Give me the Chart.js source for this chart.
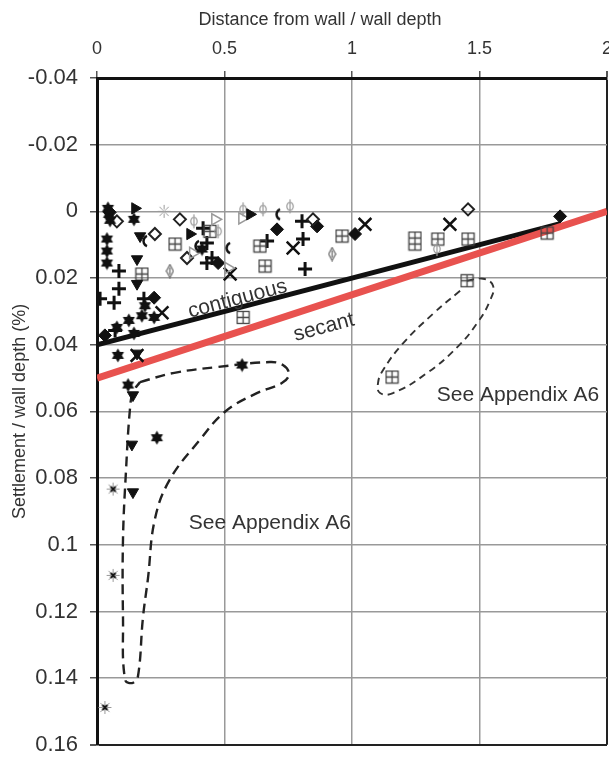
<!DOCTYPE html>
<html>
<head>
<meta charset="utf-8">
<script src="https://cdn.jsdelivr.net/npm/chart.js@4.4.1/dist/chart.umd.min.js"></script>
<style>
  html, body { margin: 0; padding: 0; background: #fff; overflow: hidden; }
  #wrap { width: 640px; height: 770px; }
</style>
</head>
<body>
<div id="wrap"><canvas id="settlementChart" width="640" height="770"></canvas></div>
<script>
// axis ticks
const xTicks = [0, 0.5, 1, 1.5, 2];
const yTicks = [-0.04, -0.02, 0, 0.02, 0.04, 0.06, 0.08, 0.1, 0.12, 0.14, 0.16];

// case histories, [distance / depth, settlement / depth (%)]
const hexStarPts = [[0.043, -0.0009], [0.047, 0.0009], [0.051, 0.0027], [0.145, 0.0024], [0.039, 0.0083],
  [0.039, 0.0119], [0.039, 0.0155], [0.412, 0.0113], [0.188, 0.0283], [0.176, 0.0313], [0.224, 0.0318],
  [0.125, 0.0327], [0.078, 0.0348], [0.145, 0.0366], [0.082, 0.0432], [0.569, 0.0461], [0.122, 0.0521],
  [0.235, 0.0679]];
const burstDarkPts = [[0.063, 0.0833], [0.063, 0.1092], [0.031, 0.1488]];
const burstOpenPts = [[0.263, 0.0]];
const triRightPts = [[0.149, -0.0009], [0.365, 0.0068], [0.6, 0.0009]];
const triDownPts = [[0.169, 0.0074], [0.157, 0.0143], [0.157, 0.0217], [0.157, 0.0426], [0.141, 0.0551],
  [0.137, 0.0699], [0.141, 0.0842]];
const triOpenPts = [[0.463, 0.0024], [0.569, 0.0021], [0.376, 0.0125], [0.514, 0.017]];
const diamondOpenPts = [[0.325, 0.0024], [0.227, 0.0068], [0.353, 0.014], [0.078, 0.003], [0.847, 0.0024],
  [1.455, -0.0006]];
const bulbPts = [[0.38, 0.003], [0.573, -0.0006], [0.651, -0.0006], [0.757, -0.0015], [0.475, 0.006],
  [1.333, 0.0113]];
const thinDiamondPts = [[0.286, 0.0179], [0.922, 0.0128]];
const crescentPts = [[0.188, 0.0089], [0.392, 0.0104], [0.71, 0.0009], [0.514, 0.011]];
const gridBoxPts = [[0.306, 0.0098], [0.176, 0.0188], [0.443, 0.006], [0.639, 0.0104], [0.659, 0.0164],
  [0.573, 0.0318], [0.961, 0.0074], [1.337, 0.0083], [1.455, 0.0083], [1.765, 0.0065], [1.451, 0.0208],
  [1.157, 0.0497]];
const tallBoxPts = [[1.247, 0.0089]];
const diamondPts = [[0.706, 0.0054], [0.475, 0.0155], [0.863, 0.0045], [1.012, 0.0068], [1.816, 0.0015],
  [0.224, 0.0259], [0.031, 0.0372], [0.05, 0.0003]];
const plusPts = [[0.416, 0.0051], [0.431, 0.0095], [0.431, 0.0155], [0.451, 0.014], [0.667, 0.0089],
  [0.804, 0.003], [0.808, 0.0083], [0.816, 0.0173], [0.086, 0.0179], [0.086, 0.0232], [0.012, 0.0262],
  [0.067, 0.0274], [0.071, 0.0357], [0.184, 0.0262]];
const crossPts = [[0.522, 0.0188], [0.769, 0.011], [1.051, 0.0039], [1.384, 0.0039], [0.255, 0.0304],
  [0.157, 0.0432]];

// design lines
const contiguousLine = [[0, 0.04], [1.82, 0.0036]];
const secantLine = [[0, 0.05], [2, 0]];

// dashed envelopes round the outliers
const envelopeA = [[0.169, 0.0512], [0.298, 0.0485], [0.471, 0.0467], [0.678, 0.0452], [0.729, 0.0461],
  [0.753, 0.0488], [0.725, 0.0515], [0.627, 0.0545], [0.502, 0.0601], [0.404, 0.0685], [0.286, 0.0804],
  [0.227, 0.0923], [0.2, 0.110], [0.18, 0.122], [0.161, 0.1393], [0.141, 0.1414], [0.11, 0.1405],
  [0.102, 0.122], [0.102, 0.0982], [0.114, 0.0774], [0.129, 0.0595], [0.141, 0.0542], [0.169, 0.0512]];
const envelopeB = [[1.451, 0.0208], [1.514, 0.0202], [1.553, 0.0223], [1.541, 0.0268], [1.49, 0.0336],
  [1.412, 0.0408], [1.294, 0.0485], [1.161, 0.0545], [1.11, 0.0545], [1.102, 0.0515], [1.122, 0.0476],
  [1.2, 0.0396], [1.318, 0.0307], [1.424, 0.0238]];

const xTitle = 'Distance from wall / wall depth';
const yTitle = 'Settlement / wall depth (%)';

const notes = [
  { text: 'contiguous', x: 0.551, y: 0.0263, angle: -15 },
  { text: 'secant', x: 0.89, y: 0.0348, angle: -15 },
  { text: 'See Appendix A6', x: 0.678, y: 0.0935, angle: 0 },
  { text: 'See Appendix A6', x: 1.651, y: 0.0551, angle: 0 }
];

const FONT = "'Liberation Sans', Arial, Helvetica, sans-serif";
Chart.defaults.font.family = FONT;
Chart.defaults.color = '#333';

const toXY = pts => pts.map(p => ({ x: p[0], y: p[1] }));

function marker(w, h, draw) {
  const c = document.createElement('canvas');
  c.width = w;
  c.height = h;
  draw(c.getContext('2d'), w, h);
  return c;
}

const hexStar = marker(15, 15, g => {
  g.fillStyle = '#111';
  g.beginPath();
  [-Math.PI / 2, Math.PI / 2].forEach(a0 => {
    for (let k = 0; k < 3; k++) {
      const a = a0 + k * 2 * Math.PI / 3;
      const px = 7.5 + 7 * Math.cos(a), py = 7.5 + 7 * Math.sin(a);
      k ? g.lineTo(px, py) : g.moveTo(px, py);
    }
    g.closePath();
  });
  g.fill();
});

function burst(dark) {
  return marker(15, 15, g => {
    g.strokeStyle = '#999';
    g.lineWidth = 1;
    g.beginPath();
    for (let k = 0; k < 8; k++) {
      const a = k * Math.PI / 4;
      g.moveTo(7.5 + 2 * Math.cos(a), 7.5 + 2 * Math.sin(a));
      g.lineTo(7.5 + 6.5 * Math.cos(a), 7.5 + 6.5 * Math.sin(a));
    }
    g.stroke();
    g.strokeStyle = dark ? '#111' : '#aaa';
    g.lineWidth = dark ? 2 : 1;
    g.beginPath();
    g.moveTo(5, 5); g.lineTo(10, 10);
    g.moveTo(10, 5); g.lineTo(5, 10);
    g.stroke();
  });
}

const gridBox = marker(15, 15, g => {
  g.strokeStyle = '#444';
  g.lineWidth = 1.3;
  g.strokeRect(1.5, 1.5, 12, 12);
  g.beginPath();
  g.moveTo(7.5, 1.5); g.lineTo(7.5, 13.5);
  g.moveTo(1.5, 7.5); g.lineTo(13.5, 7.5);
  g.stroke();
});

const tallBox = marker(15, 21, g => {
  g.strokeStyle = '#444';
  g.lineWidth = 1.3;
  g.strokeRect(1.5, 1.5, 12, 18);
  g.beginPath();
  g.moveTo(7.5, 1.5); g.lineTo(7.5, 19.5);
  g.moveTo(1.5, 7.5); g.lineTo(13.5, 7.5);
  g.moveTo(1.5, 13.5); g.lineTo(13.5, 13.5);
  g.stroke();
});

const crescent = marker(12, 14, g => {
  g.strokeStyle = '#111';
  g.lineWidth = 2.5;
  g.beginPath();
  g.arc(10, 7, 5.5, 0.62 * Math.PI, 1.38 * Math.PI);
  g.stroke();
});

const bulb = marker(10, 16, g => {
  g.strokeStyle = '#999';
  g.lineWidth = 1.2;
  g.beginPath();
  g.ellipse(5, 8, 3.2, 4, 0, 0, 2 * Math.PI);
  g.moveTo(5, 1); g.lineTo(5, 15);
  g.stroke();
});

const thinDiamond = marker(9, 15, g => {
  g.strokeStyle = '#666';
  g.lineWidth = 1.2;
  g.beginPath();
  g.moveTo(4.5, 1); g.lineTo(8, 7.5); g.lineTo(4.5, 14); g.lineTo(1, 7.5); g.closePath();
  g.moveTo(4.5, 4); g.lineTo(4.5, 11);
  g.stroke();
});

function pointSet(pts, style, extra) {
  return Object.assign({
    data: toXY(pts),
    pointStyle: style,
    pointRadius: 6.5,
    pointBackgroundColor: '#111',
    pointBorderColor: '#111',
    pointBorderWidth: 1,
    showLine: false,
    order: 1
  }, extra || {});
}

function lineSet(pts, color, width, extra) {
  return Object.assign({
    data: toXY(pts),
    showLine: true,
    pointRadius: 0,
    borderColor: color,
    borderWidth: width,
    fill: false
  }, extra || {});
}

// top title (centred on the canvas) plus rotated text along the design lines
const notesPlugin = {
  id: 'notes',
  afterDatasetsDraw(chart) {
    const { ctx, scales } = chart;
    ctx.save();
    ctx.fillStyle = '#333';
    ctx.textAlign = 'center';
    ctx.textBaseline = 'middle';
    ctx.font = '18px ' + FONT;
    ctx.fillText(xTitle, chart.width / 2, 20);
    ctx.font = '21px ' + FONT;
    notes.forEach(n => {
      ctx.save();
      ctx.translate(scales.x.getPixelForValue(n.x), scales.y.getPixelForValue(n.y));
      ctx.rotate(n.angle * Math.PI / 180);
      ctx.fillText(n.text, 0, 0);
      ctx.restore();
    });
    ctx.restore();
  }
};

const fmt = v => String(Math.round(v * 100) / 100);

new Chart(document.getElementById('settlementChart').getContext('2d'), {
  type: 'scatter',
  data: {
    datasets: [
      pointSet(hexStarPts, hexStar),
      pointSet(burstDarkPts, burst(true)),
      pointSet(burstOpenPts, burst(false)),
      pointSet(triRightPts, 'triangle', { pointRotation: 90, pointRadius: 6.5 }),
      pointSet(triDownPts, 'triangle', { pointRotation: 180, pointRadius: 6.5 }),
      pointSet(triOpenPts, 'triangle', { pointRotation: 90, pointRadius: 6.5, pointBackgroundColor: 'rgba(0,0,0,0)', pointBorderColor: '#999', pointBorderWidth: 1.5 }),
      pointSet(diamondOpenPts, 'rectRot', { pointRadius: 6, pointBackgroundColor: 'rgba(255,255,255,0)', pointBorderColor: '#222', pointBorderWidth: 2 }),
      pointSet(bulbPts, bulb),
      pointSet(thinDiamondPts, thinDiamond),
      pointSet(crescentPts, crescent),
      pointSet(gridBoxPts, gridBox),
      pointSet(tallBoxPts, tallBox),
      pointSet(diamondPts, 'rectRot', { pointRadius: 6.5 }),
      pointSet(plusPts, 'cross', { pointRadius: 7, pointBorderWidth: 3 }),
      pointSet(crossPts, 'crossRot', { pointRadius: 9, pointBorderWidth: 2.5 }),
      lineSet(secantLine, '#e8524f', 7, { order: 5 }),
      lineSet(contiguousLine, '#111', 5, { order: 6 }),
      lineSet(envelopeA, '#222', 2.4, { order: 7, borderDash: [10, 6], tension: 0.4 }),
      lineSet(envelopeB, '#333', 1.9, { order: 7, borderDash: [7, 5], tension: 0.45 })
    ]
  },
  options: {
    responsive: false,
    devicePixelRatio: 1,
    animation: false,
    events: [],
    layout: { padding: { top: 0, right: 33, bottom: 21, left: 0 } },
    plugins: {
      legend: { display: false },
      tooltip: { enabled: false },
      title: { display: false }
    },
    scales: {
      x: {
        type: 'linear',
        position: 'top',
        min: 0,
        max: 2,
        afterBuildTicks: s => { s.ticks = xTicks.map(v => ({ value: v })); },
        afterFit: s => { s.height = 78; },
        ticks: { callback: v => fmt(v), font: { size: 18 }, color: '#333', padding: 11, maxRotation: 0 },
        grid: {
          color: c => c.index === xTicks.length - 1 ? '#222' : '#999',
          lineWidth: c => c.index === xTicks.length - 1 ? 2 : 1.5,
          tickLength: 7,
          tickColor: '#555'
        },
        border: { color: '#111', width: 3 }
      },
      y: {
        type: 'linear',
        reverse: true,
        min: -0.04,
        max: 0.16,
        afterBuildTicks: s => { s.ticks = yTicks.map(v => ({ value: v })); },
        afterFit: s => { s.width = 97; },
        ticks: { callback: v => fmt(v), font: { size: 22 }, color: '#333', padding: 12 },
        grid: {
          color: c => c.index === yTicks.length - 1 ? '#222' : '#999',
          lineWidth: c => c.index === yTicks.length - 1 ? 2 : 1.5,
          tickLength: 7,
          tickColor: '#555'
        },
        border: { color: '#111', width: 3 },
        title: {
          display: true,
          text: yTitle,
          color: '#333',
          font: { size: 18, weight: 'normal' },
          padding: { top: 9, bottom: 0 }
        }
      }
    }
  },
  plugins: [notesPlugin]
});
</script>
</body>
</html>
